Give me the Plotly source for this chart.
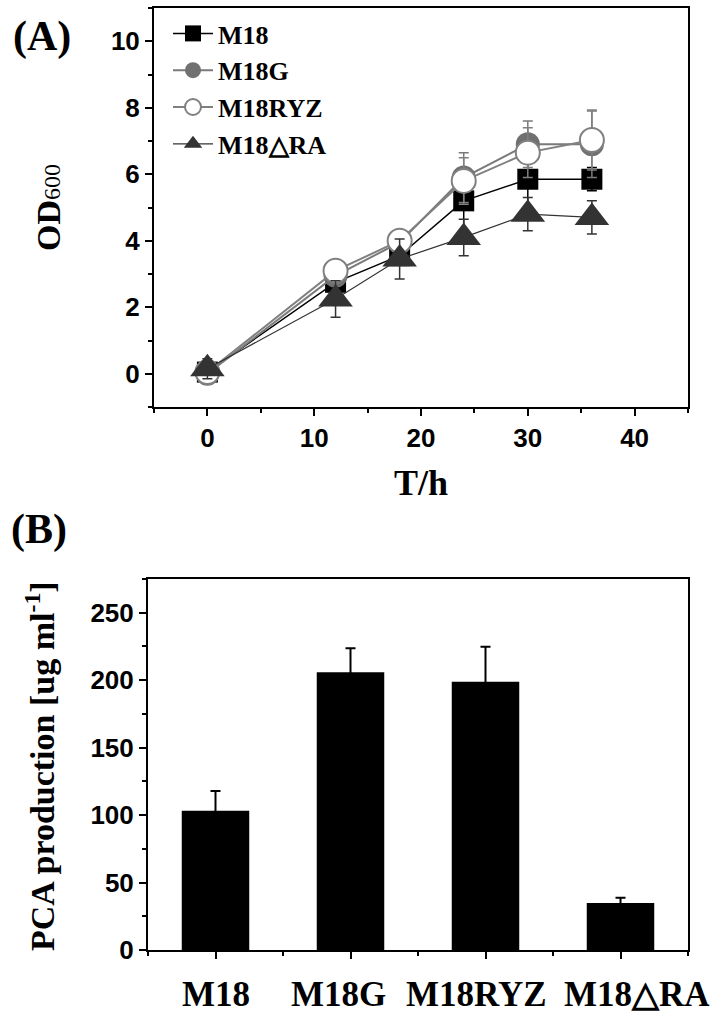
import plotly.graph_objects as go

# ---------------- data ----------------
time_h = [0, 12, 18, 24, 30, 36]
od_m18 = [0.05, 2.75, 3.55, 5.2, 5.85, 5.85]
od_m18_err = [0.1, 0.25, 0.2, 0.9, 0.85, 0.35]
od_m18g = [0.0, 2.95, 3.95, 5.9, 6.9, 6.9]
od_m18g_err = [0.1, 0.2, 0.15, 0.75, 0.7, 1.0]
od_m18ryz = [0.05, 3.1, 4.0, 5.8, 6.65, 7.03]
od_m18ryz_err = [0.35, 0.15, 0.1, 0.7, 0.75, 0.9]
od_m18dra = [0.15, 2.25, 3.45, 4.1, 4.8, 4.7]
od_m18dra_err = [0.3, 0.55, 0.6, 0.55, 0.5, 0.5]
series_names = ["M18", "M18G", "M18RYZ", "M18△RA"]

strains = ["M18", "M18G", "M18RYZ", "M18△RA"]
pca = [103.3, 205.8, 198.9, 34.8]
pca_err = [14.5, 17.8, 25.9, 4.0]

x_ticks_a = [0, 10, 20, 30, 40]
y_ticks_a = [0, 2, 4, 6, 8, 10]
y_ticks_b = [0, 50, 100, 150, 200, 250]

# ---------------- layout helpers ----------------
W, H = 724, 1016
def px(x):
    return x / W
def py(y):
    return 1 - y / H

SERIF = "Liberation Serif, Times New Roman, serif"
SANS = "Liberation Sans, Arial, sans-serif"

fig = go.Figure()

styles = [
    dict(line=dict(color="#000000", width=1.5),
         marker=dict(symbol="square", size=21, color="#000000")),
    dict(line=dict(color="#7a7a7a", width=2),
         marker=dict(symbol="circle", size=24, color="#707070")),
    dict(line=dict(color="#808080", width=2),
         marker=dict(symbol="circle", size=24, color="#ffffff",
                     line=dict(color="#808080", width=2))),
    dict(line=dict(color="#333333", width=1.2),
         marker=dict(symbol="triangle-up", size=30, color="#333333")),
]
ys = [od_m18, od_m18g, od_m18ryz, od_m18dra]
errs = [od_m18_err, od_m18g_err, od_m18ryz_err, od_m18dra_err]
err_cols = ["#000000", "#7a7a7a", "#808080", "#333333"]

for name, y, e, st, ec in zip(series_names, ys, errs, styles, err_cols):
    fig.add_trace(go.Scatter(
        x=time_h, y=y, name=name, mode="lines+markers",
        error_y=dict(type="data", array=e, visible=True, color=ec,
                     thickness=1.5, width=5),
        xaxis="x", yaxis="y", **st))

fig.add_trace(go.Bar(
    x=list(range(len(strains))), y=pca, width=0.5,
    marker=dict(color="#000000", line=dict(width=0)),
    error_y=dict(type="data", array=pca_err, visible=True, color="#000000",
                 thickness=2, width=5),
    showlegend=False, xaxis="x2", yaxis="y2"))

axis_common = dict(showline=True, linewidth=2, linecolor="#000000",
                   mirror=True, showgrid=False, zeroline=False, automargin=False,
                   ticks="outside", ticklen=7, tickwidth=2, tickcolor="#000000")

fig.update_layout(
    width=W, height=H,
    margin=dict(l=0, r=0, t=0, b=0, autoexpand=False),
    paper_bgcolor="white", plot_bgcolor="white",
    showlegend=True,
    legend=dict(x=px(168), y=py(10), xanchor="left", yanchor="top",
                bgcolor="rgba(0,0,0,0)",
                font=dict(family=SERIF, size=26, color="#000000", weight="bold"),
                itemwidth=40, tracegroupgap=0),
    xaxis=dict(domain=[px(154), px(688)], range=[-5, 45],
               tickvals=x_ticks_a, anchor="y", tickangle=0,
               tickfont=dict(family=SANS, size=26, color="#000000", weight="bold"),
               minor=dict(ticks="outside", ticklen=4, tickwidth=2, dtick=5,
                          tick0=-5, tickcolor="#000000"),
               **axis_common),
    yaxis=dict(domain=[py(407), py(8)], range=[-1, 11],
               tickvals=y_ticks_a, anchor="x",
               tickfont=dict(family=SANS, size=26, color="#000000", weight="bold"),
               minor=dict(ticks="outside", ticklen=4, tickwidth=2, dtick=1,
                          tick0=-1, tickcolor="#000000"),
               **axis_common),
    xaxis2=dict(domain=[px(148), px(688)], range=[-0.5, 3.5],
                tickvals=list(range(len(strains))), showticklabels=False,
                anchor="y2",
                minor=dict(ticks="outside", ticklen=4, tickwidth=2, dtick=1,
                           tick0=-0.5, tickcolor="#000000"),
                **axis_common),
    yaxis2=dict(domain=[py(950), py(579)], range=[0, 275],
                tickvals=y_ticks_b, anchor="x2",
                tickfont=dict(family=SANS, size=26, color="#000000", weight="bold"),
                minor=dict(ticks="outside", ticklen=4, tickwidth=2, dtick=25,
                           tick0=0, tickcolor="#000000"),
                **axis_common),
)

ann_font = dict(family=SERIF, color="#000000", weight="bold")
ann_common = dict(xref="paper", yref="paper", showarrow=False,
                  xanchor="center", yanchor="middle")
fig.add_annotation(text="(A)", x=px(42), y=py(36),
                   font=dict(size=42, **ann_font), **ann_common)
fig.add_annotation(text="(B)", x=px(39), y=py(529),
                   font=dict(size=42, **ann_font), **ann_common)
fig.add_annotation(text='OD<span style="font-weight:normal;font-size:24px">600</span>',
                   x=px(49), y=py(207), textangle=-90,
                   font=dict(size=34, **ann_font), **ann_common)
fig.add_annotation(text="T/h", x=px(421), y=py(483),
                   font=dict(size=36, **ann_font), **ann_common)
fig.add_annotation(text="PCA production [ug ml<sup>-1</sup>]",
                   x=px(40), y=py(766), textangle=-90,
                   font=dict(size=34, **ann_font), **ann_common)

# category labels under panel B (hand-placed in the original figure)
label_shift = [0, -12, -9, 16]
for i, (name, sh) in enumerate(zip(strains, label_shift)):
    fig.add_annotation(text=name, x=i, xref="x2", y=py(994), yref="paper",
                       xshift=sh, showarrow=False, xanchor="center",
                       yanchor="middle", font=dict(size=35, **ann_font))

fig.write_html("out.html", config={"displayModeBar": False},
               post_script="document.body.style.margin='0';document.body.style.overflow='hidden';")
